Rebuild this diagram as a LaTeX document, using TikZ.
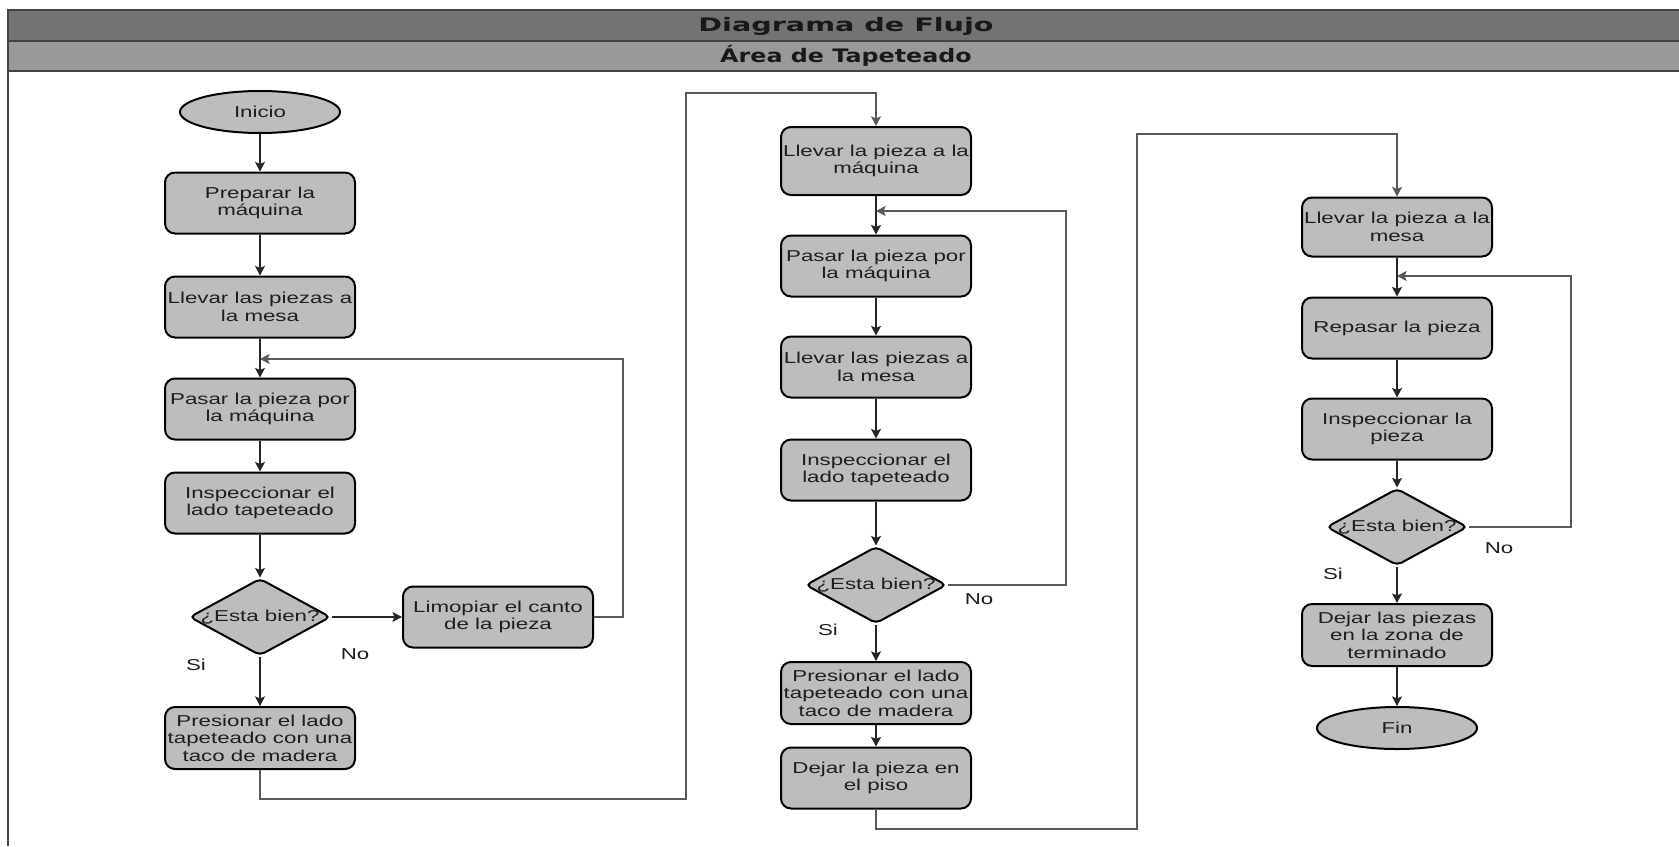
\documentclass[tikz,border=0pt]{standalone}
\usepackage{fontspec}
\usetikzlibrary{shapes.geometric,arrows.meta,calc}
\newfontfamily\nodefont{Liberation Sans}[FakeStretch=1.41]
\newfontfamily\titlefont{DejaVu Sans}[FakeStretch=1.54]
\newfontfamily\subtitlefont{DejaVu Sans}[FakeStretch=1.28]
\definecolor{nodefill}{HTML}{BDBDBD}
\definecolor{bandA}{HTML}{737373}
\definecolor{bandB}{HTML}{999999}
\definecolor{txt}{HTML}{1E1E1E}
\definecolor{frameline}{HTML}{444444}
\tikzset{
  nfont/.style={font=\nodefont\fontsize{7.9}{8.8}\selectfont, text=txt},
  proc/.style={nfont, draw=black, line width=1pt, fill=nodefill, rounded corners=5pt,
    minimum width=95pt, minimum height=30.5pt, align=center, inner sep=1pt},
  term/.style={nfont, ellipse, draw=black, line width=1pt, fill=nodefill,
    minimum width=80pt, minimum height=21pt, inner sep=0pt},
  decision/.style={diamond, draw=black, line width=1pt, fill=nodefill, rounded corners=2.5pt,
    minimum width=70.5pt, minimum height=38.5pt, inner sep=0pt},
  dtext/.style={nfont, inner sep=0pt},
  lbl/.style={nfont, inner sep=0pt},
  conn/.style={draw=black!85, line width=0.65pt, -{Stealth[length=4.8pt,width=5pt,inset=1pt]}},
  back/.style={draw=black!65, line width=0.6pt, -{Stealth[length=4.8pt,width=5pt,inset=1pt]}},
}
\begin{document}
\begin{tikzpicture}[x=0.5pt,y=-0.5pt]
\useasboundingbox (0,0) rectangle (1679,846);
% header
\fill[bandA] (8,10) rectangle (1679,41);
\fill[bandB] (8,41) rectangle (1679,71);
\draw[frameline, line width=1pt] (1679,10) -- (8,10) -- (8,846);
\draw[frameline, line width=1pt] (8,41) -- (1679,41);
\draw[frameline, line width=1pt] (8,71) -- (1679,71);
\node[font=\titlefont\bfseries\fontsize{9.3}{10}\selectfont, text=black!90] (title) at (846,26) {Diagrama de Flujo};
\node[font=\subtitlefont\bfseries\fontsize{9.3}{10}\selectfont, text=black!90] (subtitle) at (846,56) {Área de Tapeteado};

% column 1
\node[term] (ini) at (260,112) {Inicio};
\node[proc] (a1) at (260,203) {Preparar la\\máquina};
\node[proc] (a2) at (260,307) {Llevar las piezas a\\la mesa};
\node[proc] (a3) at (260,409) {Pasar la pieza por\\la máquina};
\node[proc] (a4) at (260,503) {Inspeccionar el\\lado tapeteado};
\node[decision, label={[dtext]center:¿Esta bien?}] (d1) at (260,617) {};
\node[proc] (lim) at (498,617) {Limopiar el canto\\de la pieza};
\node[proc, minimum height=31pt] (a5) at (260,738) {Presionar el lado\\tapeteado con una\\taco de madera};
\node[lbl] (si1) at (196,665) {Si};
\node[lbl] (no1) at (355,654) {No};
\coordinate (j1) at (260,359);

% column 2
\node[proc, minimum height=34pt] (b1) at (876,161) {Llevar la pieza a la\\máquina};
\node[proc] (b2) at (876,266) {Pasar la pieza por\\la máquina};
\node[proc] (b3) at (876,367) {Llevar las piezas a\\la mesa};
\node[proc] (b4) at (876,470) {Inspeccionar el\\lado tapeteado};
\node[decision, label={[dtext]center:¿Esta bien?}] (d2) at (876,585) {};
\node[proc, minimum height=31pt] (b5) at (876,693) {Presionar el lado\\tapeteado con una\\taco de madera};
\node[proc] (b6) at (876,778) {Dejar la pieza en\\el piso};
\node[lbl] (si2) at (828,630) {Si};
\node[lbl] (no2) at (979,599) {No};
\coordinate (j2) at (876,211);

% column 3
\node[proc, minimum height=29.5pt] (c1) at (1397,227) {Llevar la pieza a la\\mesa};
\node[proc] (c2) at (1397,328) {Repasar la pieza};
\node[proc] (c3) at (1397,429) {Inspeccionar la\\pieza};
\node[decision, label={[dtext]center:¿Esta bien?}] (d3) at (1397,527) {};
\node[proc, minimum height=31pt] (c4) at (1397,635) {Dejar las piezas\\en la zona de\\terminado};
\node[term] (fin) at (1397,728) {Fin};
\node[lbl] (si3) at (1333,574) {Si};
\node[lbl] (no3) at (1499,548) {No};
\coordinate (j3) at (1397,276);

% connectors column 1
\draw[conn] (ini) -- (a1);
\draw[conn] (a1) -- (a2);
\draw[conn] (a2) -- (a3);
\draw[conn] (a3) -- (a4);
\draw[conn] (a4) -- (d1);
\draw[conn] (d1.east) -- (lim.west);
\draw[conn] (d1.south) -- (a5.north);
\draw[back] (lim.east) -- (623,617) -- (623,359) -- (j1);
\draw[back] (a5.south) -- (260,799) -- (686,799) -- (686,93) -- (876,93) -- (b1.north);

% connectors column 2
\draw[conn] (b1) -- (b2);
\draw[conn] (b2) -- (b3);
\draw[conn] (b3) -- (b4);
\draw[conn] (b4) -- (d2);
\draw[conn] (d2.south) -- (b5.north);
\draw[conn] (b5) -- (b6);
\draw[back] (d2.east) -- (1066,585) -- (1066,211) -- (j2);
\draw[back] (b6.south) -- (876,829) -- (1137,829) -- (1137,134) -- (1397,134) -- (c1.north);

% connectors column 3
\draw[conn] (c1) -- (c2);
\draw[conn] (c2) -- (c3);
\draw[conn] (c3) -- (d3);
\draw[conn] (d3.south) -- (c4.north);
\draw[conn] (c4) -- (fin);
\draw[back] (d3.east) -- (1571,527) -- (1571,276) -- (j3);
\end{tikzpicture}
\end{document}
